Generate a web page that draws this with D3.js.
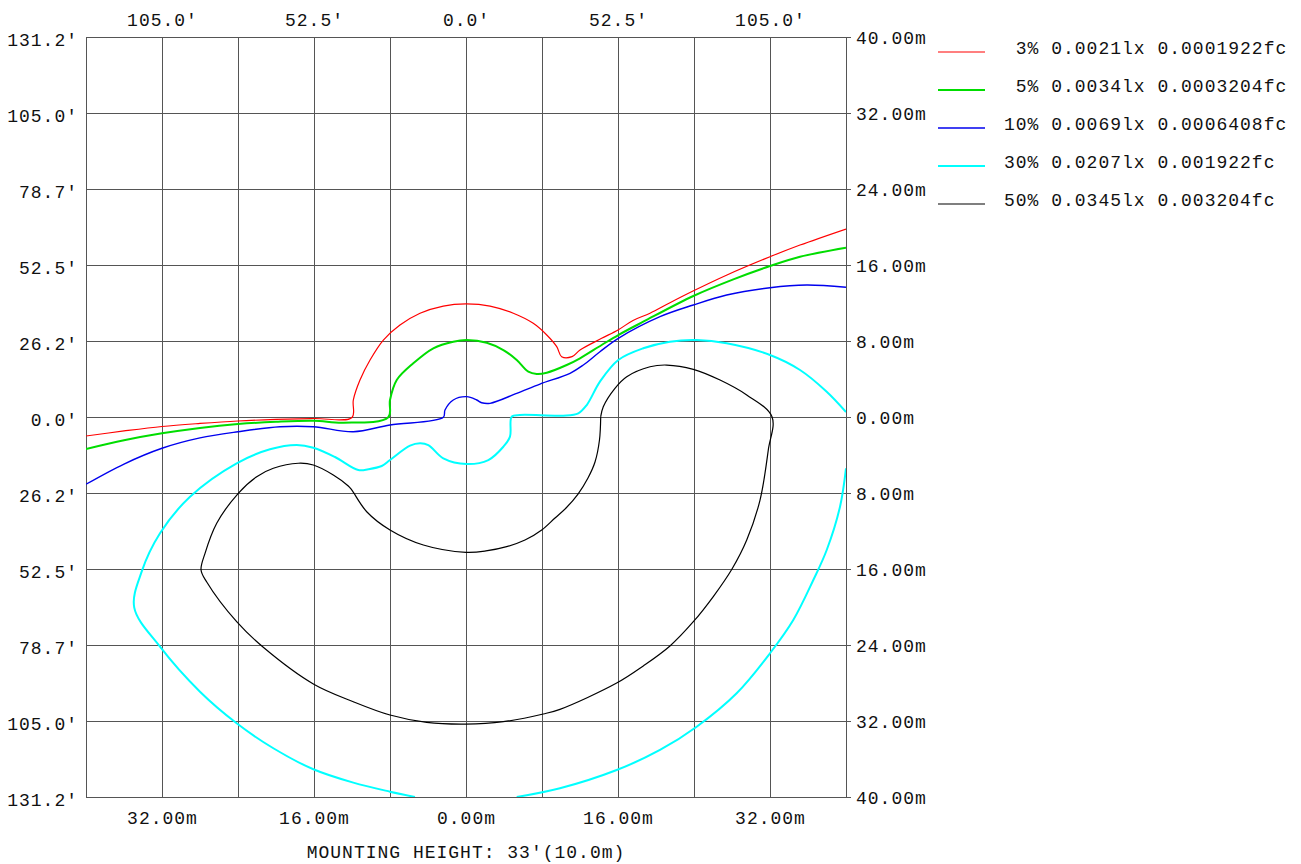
<!DOCTYPE html>
<html>
<head>
<meta charset="utf-8">
<script src="https://cdn.jsdelivr.net/npm/d3@7"></script>
<style>
  body { margin: 0; background: #fff; }
  text { font-family: "Liberation Mono", "Courier New", monospace; font-size: 18px; letter-spacing: 1px; fill: #111; }
</style>
</head>
<body>
<svg id="chart" width="1301" height="864"></svg>
<script>
// Grid positions (metres) and the labels printed at them.
const gridSteps = [-40, -32, -24, -16, -8, 0, 8, 16, 24, 32, 40];
const topTicks = [-32, -16, 0, 16, 32];
const topLabels = ["105.0'", "52.5'", "0.0'", "52.5'", "105.0'"];
const bottomLabels = ["32.00m", "16.00m", "0.00m", "16.00m", "32.00m"];
const leftLabels = ["131.2'", "105.0'", "78.7'", "52.5'", "26.2'", "0.0'", "26.2'", "52.5'", "78.7'", "105.0'", "131.2'"];
const rightLabels = ["40.00m", "32.00m", "24.00m", "16.00m", "8.00m", "0.00m", "8.00m", "16.00m", "24.00m", "32.00m", "40.00m"];

// Legend.
const seriesNames = [" 3% 0.0021lx 0.0001922fc", " 5% 0.0034lx 0.0003204fc", "10% 0.0069lx 0.0006408fc", "30% 0.0207lx 0.001922fc", "50% 0.0345lx 0.003204fc"];
const seriesColors = ["#ff0000", "#00dd00", "#0000ee", "#00ffff", "#000000"];

// Isolux contours, [x, y] in metres (y up).
const red3 = [
  [-40, -2.0], [-36, -1.47], [-32, -1.0], [-28, -0.68], [-24, -0.42], [-20, -0.26], [-16, -0.16], [-12, -0.05],
  [-11.86, 1.79], [-11.16, 3.89], [-10.1, 6.0], [-8.7, 8.1], [-6.95, 9.68], [-4.84, 10.92], [-2.39, 11.68],
  [0, 11.9], [2.53, 11.68], [4.98, 10.92], [7.08, 9.86], [8.5, 8.63], [9.55, 7.4], [10.07, 6.35],
  [11.16, 6.35], [12.0, 7.05], [14.28, 8.28], [16.0, 9.16], [17.58, 10.16], [19.37, 10.92], [21.47, 12.03],
  [23.9, 13.26], [27.47, 14.95], [32.0, 16.87], [35.16, 18.1], [40, 19.79]
];
const green5 = [
  [-40, -3.37], [-36, -2.45], [-32, -1.72], [-28, -1.15], [-24, -0.74], [-20, -0.5], [-16, -0.39], [-12.9, -0.6], [-8.18, -0.03],
  [-8.0, 1.79], [-7.29, 3.89], [-5.55, 5.65], [-3.44, 7.23], [-1.34, 7.93], [0.07, 8.1], [2.18, 7.82],
  [3.93, 7.05], [5.34, 6.0], [6.56, 4.77], [7.44, 4.53], [8.5, 4.66], [10.6, 5.47], [12.0, 6.18],
  [14.28, 7.58], [16.03, 8.63], [18.66, 10.03], [23.93, 12.74], [28.14, 14.49], [32.0, 15.89],
  [35.16, 16.87], [40, 17.82]
];
const blue10 = [
  [-40, -7.08], [-36, -4.95], [-32, -3.29], [-28, -2.2], [-24, -1.55], [-19.58, -1.02], [-16.07, -1.02],
  [-11.86, -1.55], [-8.0, -0.84], [-2.39, -0.03], [-2.21, 0.74], [-1.34, 1.79], [0.07, 2.14], [1.13, 1.79],
  [1.65, 1.5], [2.53, 1.44], [5.34, 2.49], [7.79, 3.47], [10.95, 4.6], [12.35, 5.47], [14.1, 6.87],
  [16.03, 8.28], [20.42, 10.56], [23.93, 11.79], [27.44, 12.84], [32, 13.61], [35.86, 13.89], [40, 13.65]
];
const cyan30a = [
  [-5.37, -40], [-8.0, -39.44], [-11.86, -38.49], [-16.07, -37.08], [-20.28, -34.87], [-24.14, -32.24],
  [-28, -28.92], [-32.21, -24.18], [-34.92, -20.07], [-34.14, -16.28], [-32.21, -12.24], [-29.05, -8.39],
  [-24.14, -4.87], [-20.63, -3.4], [-17.82, -2.95], [-16.07, -3.23], [-13.79, -4.21], [-11.34, -5.58],
  [-10.28, -5.5], [-8.87, -5.16], [-8.0, -4.53], [-5.89, -3.02], [-4.84, -2.77], [-3.97, -2.95],
  [-2.39, -4.35], [0.07, -4.95], [2.35, -4.53], [3.93, -3.13], [4.63, -2.07], [4.81, 0.03], [5.68, 0.21],
  [10.24, 0.14], [11.82, 0.39], [12.71, 1.26], [14.1, 3.72], [16.03, 6.0], [18.66, 7.23], [21.47, 7.93],
  [24.28, 8.1], [27.44, 7.76], [32, 6.53], [35.16, 4.95], [37.97, 2.66], [40, 0.53]
];
const cyan30b = [
  [40, -5.4], [39.37, -9.44], [37.97, -14.0], [36.56, -17.16], [34.45, -21.37], [32, -24.87], [28.49, -29.08],
  [24.28, -32.6], [20.42, -35.05], [15.86, -37.16], [9.89, -39.08], [5.34, -40]
];
const black50 = [
  [14.18, 0.03], [14.05, -2.42], [13.58, -4.74], [12.84, -6.42], [11.79, -8.11], [10.53, -9.58], [9.37, -10.63],
  [7.97, -11.89], [6.21, -12.95], [4.28, -13.65], [2.1, -14.1], [0, -14.24], [-4.49, -13.47], [-8.0, -11.89],
  [-10.45, -9.97], [-12.03, -7.68], [-12.39, -7.26], [-13.97, -6.1], [-16.07, -5.05], [-17.65, -4.87],
  [-20.28, -5.4], [-22.03, -6.28], [-23.97, -8.03], [-26.24, -11.19], [-27.47, -14.35], [-27.89, -16.1],
  [-27.29, -17.37], [-24.14, -21.55], [-21.34, -24.24], [-16.07, -28.1], [-11.86, -29.97], [-8.0, -31.37],
  [-4.14, -32.14], [-0.03, -32.32], [3.93, -32.07], [8.14, -31.26], [9.89, -30.77], [15.86, -28.0],
  [18.66, -26.2], [21.47, -24.1], [23.93, -21.55], [26.03, -18.9], [28.0, -16.0], [29.55, -12.95],
  [30.95, -8.74], [31.82, -3.47], [32.21, 0.03], [29.55, 2.32], [26.74, 3.89], [23.93, 5.02],
  [21.13, 5.47], [19.37, 5.29], [16.92, 4.24], [15.68, 3.02], [14.45, 1.08], [14.18, 0.03]
];

const curves = [
  { pts: red3, color: seriesColors[0], w: 1.2 },
  { pts: green5, color: seriesColors[1], w: 2 },
  { pts: blue10, color: seriesColors[2], w: 1.4 },
  { pts: cyan30a, color: seriesColors[3], w: 2 },
  { pts: cyan30b, color: seriesColors[3], w: 2 },
  { pts: black50, color: seriesColors[4], w: 1.2 }
];

const svg = d3.select('#chart');
const x = d3.scaleLinear().domain([-40, 40]).range([86, 846]);
const y = d3.scaleLinear().domain([-40, 40]).range([797, 37]);

// Grid.
const grid = svg.append('g').attr('stroke', '#555').attr('stroke-width', 1).attr('shape-rendering', 'crispEdges');
grid.selectAll('line.v').data(gridSteps).join('line')
  .attr('class', 'v')
  .attr('x1', d => x(d)).attr('x2', d => x(d))
  .attr('y1', y(40)).attr('y2', y(-40));
grid.selectAll('line.h').data(gridSteps).join('line')
  .attr('class', 'h')
  .attr('x1', x(-40)).attr('x2', x(40) + 5)
  .attr('y1', d => y(d)).attr('y2', d => y(d));

// Axes, labels only.
function labelAxis(axis, g) {
  g.call(axis);
  g.select('.domain').remove();
  g.selectAll('.tick line').remove();
  g.selectAll('text').attr('font-family', null).attr('font-size', null).attr('fill', '#111');
}
labelAxis(d3.axisTop(x).tickValues(topTicks).tickSize(0).tickPadding(0)
  .tickFormat((d, i) => topLabels[i]), svg.append('g').attr('transform', 'translate(0,26)'));
labelAxis(d3.axisBottom(x).tickValues(topTicks).tickSize(0).tickPadding(0)
  .tickFormat((d, i) => bottomLabels[i]), svg.append('g').attr('transform', 'translate(0,811)'));
labelAxis(d3.axisLeft(y).tickValues(gridSteps.slice().reverse()).tickSize(0).tickPadding(0)
  .tickFormat((d, i) => leftLabels[i]), svg.append('g').attr('transform', 'translate(78,3)'));
labelAxis(d3.axisRight(y).tickValues(gridSteps.slice().reverse()).tickSize(0).tickPadding(0)
  .tickFormat((d, i) => rightLabels[i]), svg.append('g').attr('transform', 'translate(856,1)'));

svg.append('text')
  .attr('x', 466).attr('y', 858)
  .attr('text-anchor', 'middle')
  .text("MOUNTING HEIGHT: 33'(10.0m)");

// Contours.
svg.append('clipPath').attr('id', 'plot-clip')
  .append('rect').attr('x', 86).attr('y', 37).attr('width', 760).attr('height', 760);

const line = d3.line()
  .x(d => x(d[0]))
  .y(d => y(d[1]))
  .curve(d3.curveCatmullRom.alpha(0.5));

svg.append('g').attr('clip-path', 'url(#plot-clip)')
  .selectAll('path').data(curves).join('path')
  .attr('d', d => line(d.pts))
  .attr('fill', 'none')
  .attr('stroke', d => d.color)
  .attr('stroke-width', d => d.w)
  .attr('stroke-linejoin', 'round');

// Legend.
const legend = svg.append('g');
const rows = legend.selectAll('g').data(seriesNames).join('g')
  .attr('transform', (d, i) => 'translate(0,' + (52 + i * 38) + ')');
rows.append('line')
  .attr('x1', 938).attr('x2', 985)
  .attr('stroke', (d, i) => seriesColors[i])
  .attr('stroke-width', (d, i) => curves[i === 4 ? 5 : i].w);
rows.append('text')
  .attr('x', 1004).attr('y', 2)
  .style('white-space', 'pre')
  .text(d => d);
</script>
</body>
</html>
